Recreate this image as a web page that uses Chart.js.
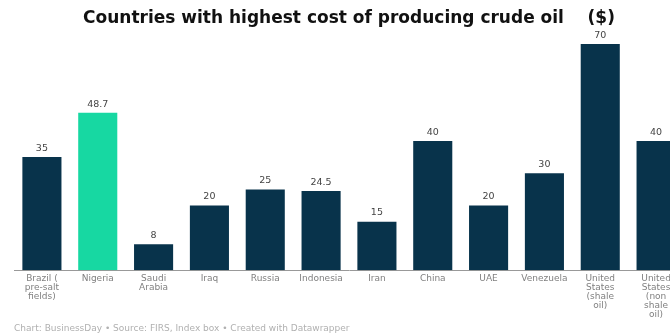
<!DOCTYPE html>
<html>
<head>
<meta charset="utf-8">
<script src="https://cdn.jsdelivr.net/npm/chart.js@4"></script>
<style>
  html, body { margin: 0; padding: 0; background: #fff; overflow: hidden; }
  #wrap { width: 690px; height: 334px; }
</style>
</head>
<body>
<div id="wrap"><canvas id="oilChart" width="690" height="334"></canvas></div>
<script>
// Chart data
const countries = [
    ['Brazil (', 'pre-salt', 'fields)'],
    'Nigeria',
    ['Saudi', 'Arabia'],
    'Iraq',
    'Russia',
    'Indonesia',
    'Iran',
    'China',
    'UAE',
    'Venezuela',
    ['United', 'States', '(shale', 'oil)'],
    ['United', 'States', '(non', 'shale', 'oil)']
];
const costs = [35, 48.7, 8, 20, 25, 24.5, 15, 40, 20, 30, 70, 40];
const highlight = 'Nigeria';

const NAVY = '#08334b';
const GREEN = '#17d8a2';
const FONT = '"DejaVu Sans", Verdana, sans-serif';

const barColors = countries.map(c => (c === highlight ? GREEN : NAVY));

// Value labels above each bar
const valueLabels = {
    id: 'valueLabels',
    afterDatasetsDraw(chart) {
        const { ctx } = chart;
        const meta = chart.getDatasetMeta(0);
        ctx.save();
        ctx.font = '9.5px ' + FONT;
        ctx.fillStyle = '#444';
        ctx.textAlign = 'center';
        ctx.textBaseline = 'bottom';
        meta.data.forEach((bar, i) => {
            ctx.fillText(String(costs[i]), bar.x, bar.y - 4);
        });
        ctx.restore();
    }
};

new Chart(document.getElementById('oilChart'), {
    type: 'bar',
    data: {
        labels: countries,
        datasets: [{
            data: costs,
            backgroundColor: barColors,
            borderWidth: 0,
            categoryPercentage: 0.7,
            barPercentage: 1
        }]
    },
    options: {
        responsive: false,
        animation: false,
        layout: { padding: { left: 14, right: 6, top: 0, bottom: 0 } },
        plugins: {
            legend: { display: false },
            tooltip: { enabled: false },
            title: {
                display: true,
                text: 'Countries with highest cost of producing crude oil    ($)',
                color: '#111',
                font: { family: FONT, size: 17, weight: 'bold' },
                padding: { top: 8, bottom: 15.6 }
            },
            subtitle: {
                display: true,
                position: 'bottom',
                align: 'start',
                text: 'Chart: BusinessDay • Source: FIRS, Index box • Created with Datawrapper',
                color: '#b0b0b0',
                font: { family: FONT, size: 9 },
                padding: { top: 0, bottom: 0 }
            }
        },
        scales: {
            x: {
                grid: { display: false, drawTicks: false },
                border: { display: true, color: '#999', width: 1 },
                ticks: {
                    color: '#808080',
                    autoSkip: false,
                    maxRotation: 0,
                    padding: 4,
                    font: { family: FONT, size: 9, lineHeight: 1.0 }
                }
            },
            y: {
                display: false,
                min: 0,
                max: 70
            }
        }
    },
    plugins: [valueLabels]
});
</script>
</body>
</html>
